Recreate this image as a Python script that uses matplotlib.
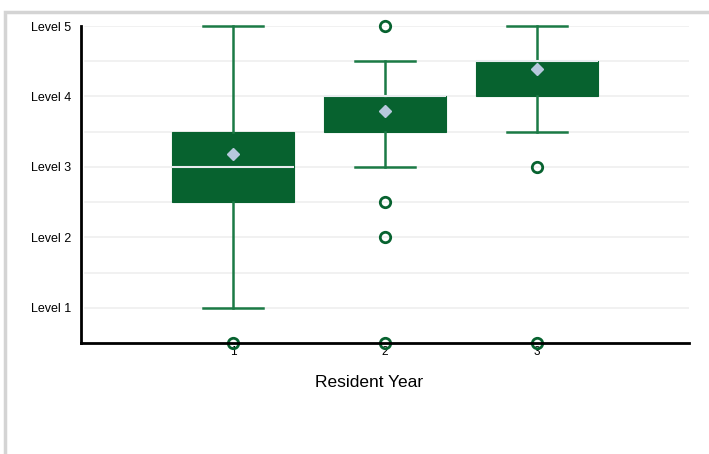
import matplotlib.pyplot as plt
from matplotlib.patches import Rectangle

plt.rcParams["font.family"] = ["Liberation Sans", "DejaVu Sans"]

# ====== data ======
years = [1, 2, 3]
q1 = [2.5, 3.5, 4.0]
medians = [3.0, 4.0, 4.5]
q3 = [3.5, 4.0, 4.5]
whisker_low = [1.0, 3.0, 3.5]
whisker_high = [5.0, 4.5, 5.0]
means = [3.18, 3.80, 4.39]
outliers = [[0.5], [5.0, 2.5, 2.0, 0.5], [3.0, 0.5]]
level_ticks = [1, 2, 3, 4, 5]
level_labels = ["Level 1", "Level 2", "Level 3", "Level 4", "Level 5"]

# ====== colours ======
box_green = "#07622f"
whisk_green = "#1b7a45"
mean_blue = "#b7c8dd"
grid_col = "#efefef"

stats = []
for i in range(len(years)):
    stats.append(dict(med=medians[i], q1=q1[i], q3=q3[i],
                      whislo=whisker_low[i], whishi=whisker_high[i],
                      mean=means[i], fliers=outliers[i], label=str(years[i])))

fig = plt.figure(figsize=(7.09, 4.54), dpi=100)
ax = fig.add_axes([0.1142, 0.2445, 0.8576, 0.6982])

# light frame round the chart
fig.patches.append(Rectangle((5 / 709, -0.1), 1.1, 1 - 12 / 454 + 0.1,
                             transform=fig.transFigure, fill=False,
                             edgecolor="#d4d4d4", linewidth=2.5))

ax.bxp(stats, positions=years, widths=0.8, showmeans=True, patch_artist=True,
       boxprops=dict(facecolor=box_green, edgecolor=box_green, linewidth=0.8),
       medianprops=dict(color="#e8ecef", linewidth=1.5),
       whiskerprops=dict(color=whisk_green, linewidth=1.8),
       capprops=dict(color=whisk_green, linewidth=1.8),
       capwidths=0.4,
       meanprops=dict(marker="D", markerfacecolor=mean_blue,
                      markeredgecolor=mean_blue, markersize=6),
       flierprops=dict(marker="o", markerfacecolor="none",
                       markeredgecolor=box_green, markeredgewidth=2,
                       markersize=7.5))

for art in ax.lines:
    art.set_clip_on(False)

ax.set_xlim(0, 4)
ax.set_ylim(0.5, 5)
ax.set_xticks(years)
ax.set_xticklabels([str(y) for y in years], fontsize=8.5)
ax.set_yticks(level_ticks)
ax.set_yticklabels(level_labels, fontsize=9)
ax.tick_params(axis="both", length=0)
ax.tick_params(axis="x", pad=2.5)
ax.tick_params(axis="y", pad=7)

for g in [1, 1.5, 2, 2.5, 3, 3.5, 4, 4.5, 5]:
    ax.axhline(g, xmin=0.007, color=grid_col, linewidth=1.2, zorder=0)

ax.set_xlabel("Resident Year", fontsize=12.5)
ax.xaxis.set_label_coords(0.474, -0.1)

ax.spines["top"].set_visible(False)
ax.spines["right"].set_visible(False)
ax.spines["left"].set_linewidth(2)
ax.spines["bottom"].set_linewidth(2)
ax.spines["left"].set_zorder(1)

plt.savefig("out.png", dpi=100, facecolor="white")
plt.close()
